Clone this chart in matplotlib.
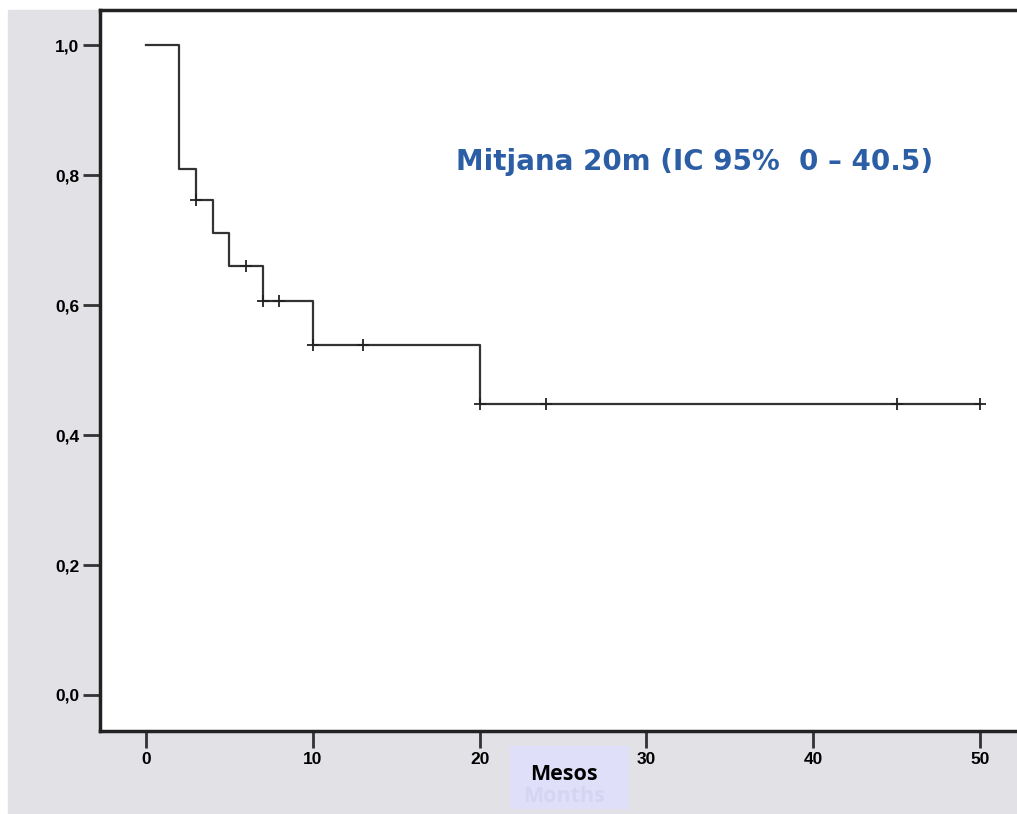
import numpy as np
import matplotlib
matplotlib.use("Agg")
import matplotlib.pyplot as plt
from matplotlib.patches import Rectangle

# Kaplan-Meier survival steps (time in months, survival after the step)
step_times = [0, 2, 3, 4, 5, 7, 10, 20, 50]
step_surv  = [1.0, 0.809, 0.762, 0.711, 0.660, 0.606, 0.538, 0.448, 0.448]

# censored observations
cens_times = [3, 6, 7, 8, 10, 13, 20, 24, 45, 50]
cens_surv  = [0.762, 0.660, 0.606, 0.606, 0.538, 0.538, 0.448, 0.448, 0.448, 0.448]

x_ticks = [0, 10, 20, 30, 40, 50]
y_ticks = [0.0, 0.2, 0.4, 0.6, 0.8, 1.0]
y_labels = ["0,0", "0,2", "0,4", "0,6", "0,8", "1,0"]

annot = "Mitjana 20m (IC 95%  0 \u2013 40.5)"
xlabel_main = "Mesos"
xlabel_ghost = "Months"

W, H = 1017, 814
GREY = "#e2e1e6"
tick_font = dict(family=["Liberation Sans Narrow", "Liberation Sans"], weight="bold", size=12.5)

fig = plt.figure(figsize=(W / 100, H / 100), dpi=100, facecolor="white")
fig.patches.append(Rectangle((8 / W, 0), 1 - 8 / W, (H - 10) / H,
                             transform=fig.transFigure, color=GREY, zorder=-5))

ax = fig.add_axes([100 / W, (H - 731) / H, (W - 100) / W, (731 - 10) / H])
ax.set_facecolor("white")

ax.step(step_times, step_surv, where="post", color="#333333", lw=1.6)
ax.plot(cens_times, cens_surv, "+", color="#222222", ms=8, mew=1.3, ls="none")

ax.set_xlim(-2.76, 52.22)
ax.set_ylim(-0.0554, 1.054)

ax.set_xticks(x_ticks)
ax.set_xticklabels([str(t) for t in x_ticks], fontdict=tick_font)
ax.set_yticks(y_ticks)
ax.set_yticklabels(y_labels, fontdict=tick_font)
ax.tick_params(length=12, width=2.0, color="#333333", pad=3)

for side in ["left", "bottom", "top"]:
    ax.spines[side].set_linewidth(2.5)
    ax.spines[side].set_color("#222222")
ax.spines["right"].set_visible(False)

fig.text(456 / W, (H - 162) / H, annot, color="#2b5ea5", fontsize=20,
         fontweight="bold", family="DejaVu Sans", va="center", ha="left")

# "Mesos" label box
fig.patches.append(Rectangle((510 / W, (H - 808) / H), 118 / W, 62 / H,
                             transform=fig.transFigure, color="#dfdff9", zorder=1))
fig.text(564 / W, (H - 775) / H, xlabel_main, ha="center", va="center",
         fontsize=15.5, family="Open Sans", fontweight="bold", color="black", zorder=2)
fig.text(564 / W, (H - 796) / H, xlabel_ghost, ha="center", va="center",
         fontsize=15.5, family="Open Sans", fontweight="bold", color="#d5d5f3", zorder=2)

fig.savefig("out.png", dpi=100)
